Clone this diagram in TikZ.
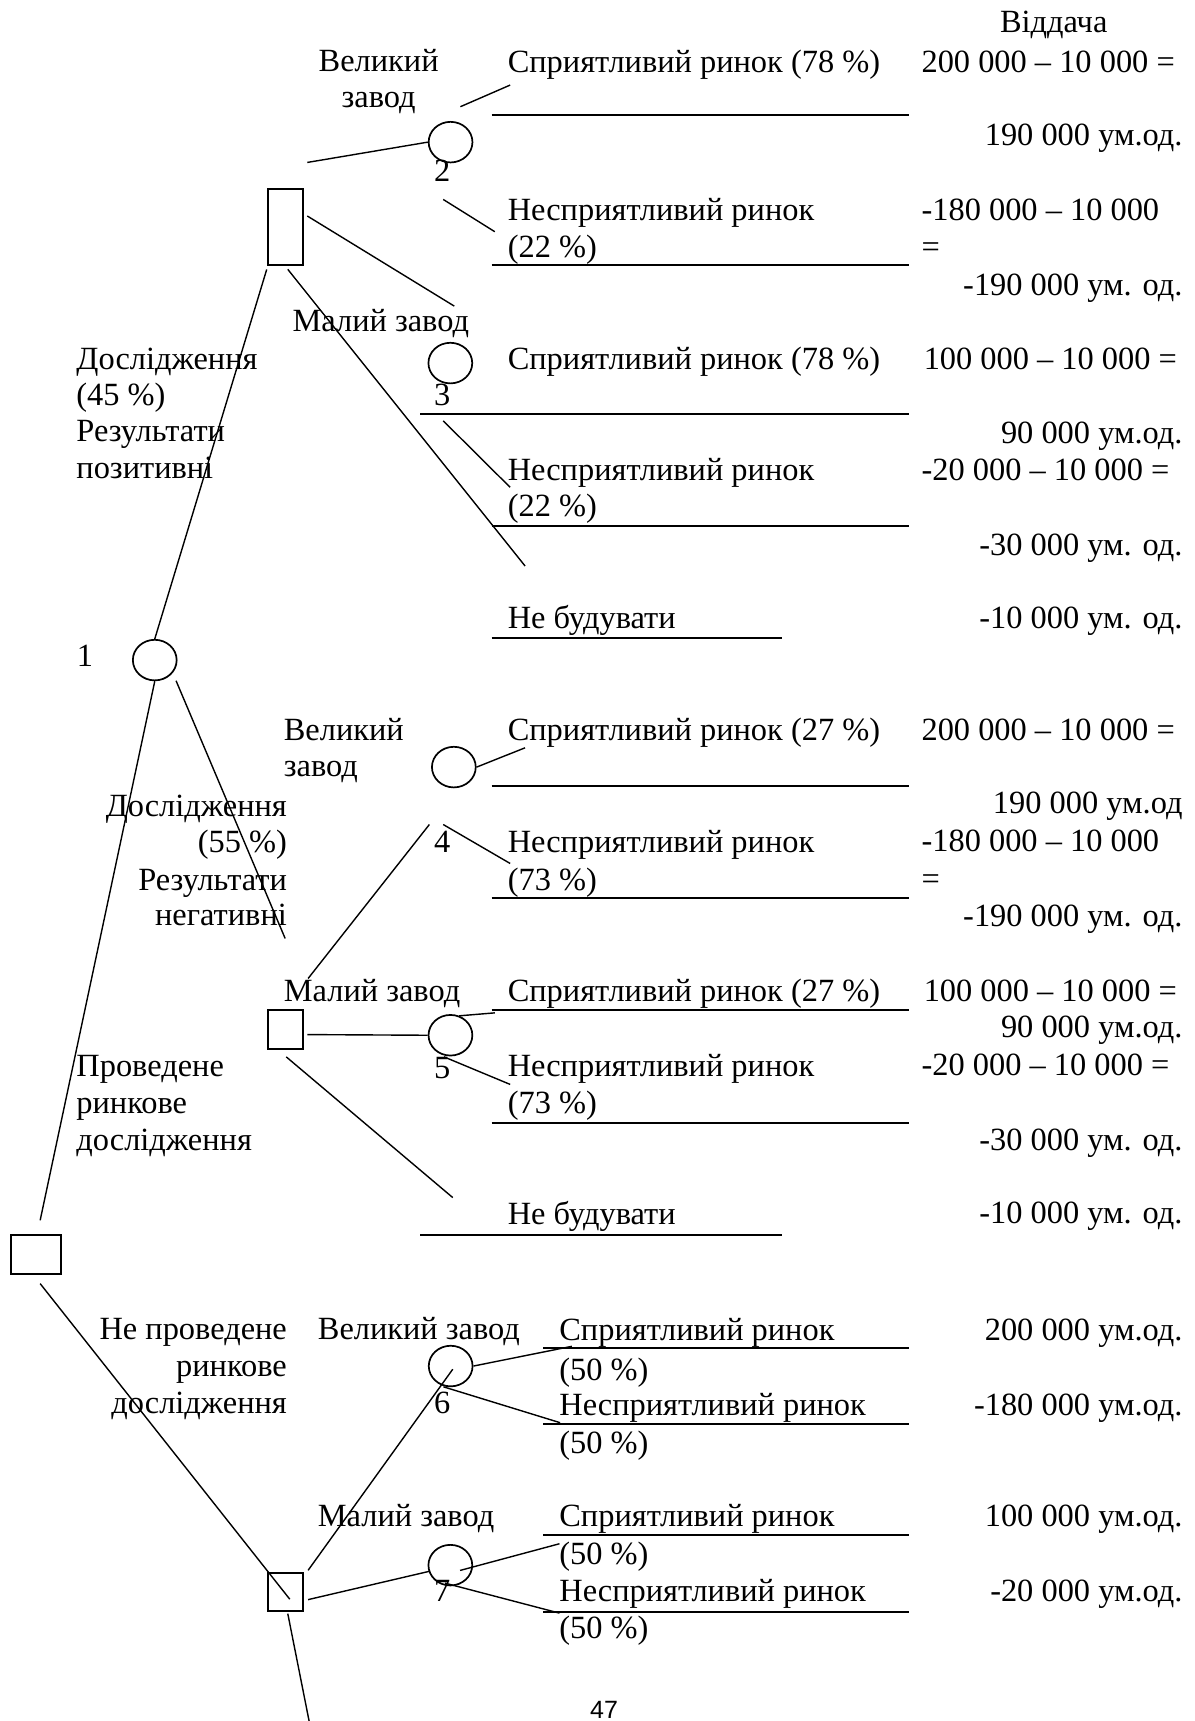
\documentclass[tikz,border=0pt]{standalone}
\usepackage{fontspec}
\setmainfont{Liberation Serif}
\newfontfamily\pagefont{Liberation Sans}
\usetikzlibrary{shapes.geometric,positioning}

\begin{document}
\begin{tikzpicture}[x=0.5487pt,y=-0.5487pt,
  font=\fontsize{16.2}{18.3}\selectfont,line width=0.7pt,
  chance/.style={ellipse,draw,line width=0.85pt,minimum width=21.9pt,minimum height=20.3pt,inner sep=0pt},
  decision/.style={rectangle,draw,line width=0.85pt,inner sep=0pt,minimum width=17.6pt},
  txt/.style={anchor=base west,inner sep=0pt},
  rtxt/.style={anchor=base east,inner sep=0pt},
  ctxt/.style={anchor=base,inner sep=0pt},
  under/.style={line width=1pt}]

  \useasboundingbox (0,0) rectangle (1088,1568);

  % decision and chance nodes
  \node[decision,minimum width=24.9pt,minimum height=19.2pt] (d0) at (33,1143) {};
  \node[decision,minimum height=37.9pt] (dA) at (260,207) {};
  \node[decision,minimum height=19.2pt] (dB) at (260,938) {};
  \node[decision,minimum height=19.2pt] (dC) at (260,1450.5) {};

  \node[chance] (1) at (141,601.4) {};
  \node[chance] (2) at (410.5,129.5) {};
  \node[chance] (3) at (410.3,330.8) {};
  \node[chance] (4) at (413.5,698.9) {};
  \node[chance] (5) at (410.4,943.2) {};
  \node[chance] (6) at (410.6,1244.6) {};
  \node[chance] (7) at (410.3,1426) {};

  \node[txt] (n1) at (69.5,607.5) {1};
  \node[ctxt] (n2) at (403,165.5) {2};
  \node[ctxt] (n3) at (403,369) {3};
  \node[ctxt] (n4) at (403,777) {4};
  \node[ctxt] (n5) at (403,982.7) {5};
  \node[ctxt] (n6) at (403,1288) {6};
  \node[ctxt] (n7) at (403,1459) {7};

  \node[ctxt] (V) at (960,29.5) {Віддача};

  % research, positive results
  \node[txt] (LA1) at (69,336.5) {Дослідження};
  \node[txt] (LA2) at (69,369) {(45 \%)};
  \node[txt] (LA3) at (69,402.5) {Результати};
  \node[txt] (LA4) at (69,435.8) {позитивні};

  \node[ctxt] (tA1) at (345,65) {Великий};
  \node[ctxt] (tA2) at (345,98) {завод};
  \node[txt] (tA3) at (266,302) {Малий завод};

  \node[txt] (pA1) at (462,66) {Сприятливий ринок (78 \%)};
  \node[txt] (pA2) at (462,201) {Несприятливий ринок};
  \node[txt] (pA2b) at (462,234.5) {(22 \%)};
  \node[txt] (pA3) at (462,337) {Сприятливий ринок (78 \%)};
  \node[txt] (pA4) at (462,437.5) {Несприятливий ринок};
  \node[txt] (pA4b) at (462,471) {(22 \%)};
  \node[txt] (pA5) at (462,572.5) {Не будувати};

  \node[txt] (vA1) at (839,66) {200 000 – 10 000 =};
  \node[rtxt] (rA1) at (1078,133) {190 000 ум.од.};
  \node[txt] (vA2) at (839,201) {-180 000 – 10 000};
  \node[txt] (vA2b) at (839,234.5) {=};
  \node[rtxt] (rA2) at (1078,269) {-190 000 ум. од.};
  \node[txt] (vA3) at (841,337) {100 000 – 10 000 =};
  \node[rtxt] (rA3) at (1078,404) {90 000 ум.од.};
  \node[txt] (vA4) at (839,437.5) {-20 000 – 10 000 =};
  \node[rtxt] (rA4) at (1078,506) {-30 000 ум. од.};
  \node[rtxt] (rA5) at (1078,572.5) {-10 000 ум. од.};

  % research, negative results
  \node[rtxt] (LB1) at (262,744.2) {Дослідження};
  \node[rtxt] (LB2) at (262,777) {(55 \%)};
  \node[rtxt] (LB3) at (262,811) {Результати};
  \node[rtxt] (LB4) at (262,843) {негативні};

  \node[txt] (tB1) at (258,674.3) {Великий};
  \node[txt] (tB2) at (258,707.7) {завод};
  \node[txt] (tB3) at (258,912) {Малий завод};

  \node[txt] (pB1) at (462,674.3) {Сприятливий ринок (27 \%)};
  \node[txt] (pB2) at (462,777) {Несприятливий ринок};
  \node[txt] (pB2b) at (462,811) {(73 \%)};
  \node[txt] (pB3) at (462,912.5) {Сприятливий ринок (27 \%)};
  \node[txt] (pB4) at (462,981) {Несприятливий ринок};
  \node[txt] (pB4b) at (462,1014.5) {(73 \%)};
  \node[txt] (pB5) at (462,1116) {Не будувати};

  \node[txt] (vB1) at (839,674.3) {200 000 – 10 000 =};
  \node[rtxt] (rB1) at (1078,741) {190 000 ум.од};
  \node[txt] (vB2) at (839,776) {-180 000 – 10 000};
  \node[txt] (vB2b) at (839,810) {=};
  \node[rtxt] (rB2) at (1078,844.4) {-190 000 ум. од.};
  \node[txt] (vB3) at (841,912.8) {100 000 – 10 000 =};
  \node[rtxt] (rB3) at (1078,945) {90 000 ум.од.};
  \node[txt] (vB4) at (839,980) {-20 000 – 10 000 =};
  \node[rtxt] (rB4) at (1078,1048) {-30 000 ум. од.};
  \node[rtxt] (rB5) at (1078,1115) {-10 000 ум. од.};

  \node[txt] (LD1) at (69,981) {Проведене};
  \node[txt] (LD2) at (69,1014.5) {ринкове};
  \node[txt] (LD3) at (69,1048) {дослідження};

  % no research
  \node[rtxt] (LC1) at (262,1220.5) {Не проведене};
  \node[rtxt] (LC2) at (262,1254) {ринкове};
  \node[rtxt] (LC3) at (262,1287.5) {дослідження};

  \node[txt] (tC1) at (289,1220.5) {Великий завод};
  \node[txt] (tC3) at (289,1390.6) {Малий завод};

  \node[txt] (pC1) at (509,1221) {Сприятливий ринок};
  \node[txt] (pC1b) at (509,1258) {(50 \%)};
  \node[txt] (pC2) at (509,1289.5) {Несприятливий ринок};
  \node[txt] (pC2b) at (509,1324.5) {(50 \%)};
  \node[txt] (pC3) at (509,1391) {Сприятливий ринок};
  \node[txt] (pC3b) at (509,1425) {(50 \%)};
  \node[txt] (pC4) at (509,1459.5) {Несприятливий ринок};
  \node[txt] (pC4b) at (509,1493) {(50 \%)};

  \node[rtxt] (rC1) at (1078,1221) {200 000 ум.од.};
  \node[rtxt] (rC2) at (1078,1289.5) {-180 000 ум.од.};
  \node[rtxt] (rC3) at (1078,1391) {100 000 ум.од.};
  \node[rtxt] (rC4) at (1078,1459.5) {-20 000 ум.од.};

  \node[anchor=south west,inner sep=0pt,font=\pagefont\fontsize{12.5}{14}\selectfont] (pg) at (537,1566) {47};

  % free ends of the branches
  \coordinate (l1b) at (243,245.5);
  \coordinate (l2a) at (160.4,620.2);  \coordinate (l2b) at (259.8,855);
  \coordinate (l3b) at (36.6,1111.8);
  \coordinate (l4a) at (36.6,1169.5);  \coordinate (l4b) at (264,1457);
  \coordinate (l5a) at (280,148);
  \coordinate (l6a) at (419.5,97.2);   \coordinate (l6b) at (464.8,77.5);
  \coordinate (l7a) at (403.8,181.7);  \coordinate (l7b) at (450.8,211.1);
  \coordinate (l8a) at (280,196.8);    \coordinate (l8b) at (413.9,278.9);
  \coordinate (l9a) at (262.2,245.4);  \coordinate (l9b) at (478.4,515.7);
  \coordinate (l10a) at (403.8,383.4); \coordinate (l10b) at (464.8,444);
  \coordinate (l11b) at (478.4,681.3);
  \coordinate (l12a) at (280.7,891.5); \coordinate (l12b) at (391.2,751.2);
  \coordinate (l13a) at (403.8,751.2); \coordinate (l13b) at (464.8,786.7);
  \coordinate (l14a) at (280,942.6);
  \coordinate (l15a) at (418.4,925.5); \coordinate (l15b) at (450.8,922.8);
  \coordinate (l16a) at (404.5,962.9); \coordinate (l16b) at (464.8,988);
  \coordinate (l17a) at (260.8,962.9); \coordinate (l17b) at (412.5,1091.1);
  \coordinate (l18a) at (280.7,1430.7); \coordinate (l18b) at (412.5,1247.5);
  \coordinate (l19b) at (521,1226.6);
  \coordinate (l20a) at (404,1263.5);  \coordinate (l20b) at (510.3,1296.2);
  \coordinate (l21a) at (280.7,1457.4); \coordinate (l21b) at (391.2,1431.6);
  \coordinate (l22a) at (419.2,1430.8); \coordinate (l22b) at (509.7,1406.5);
  \coordinate (l23a) at (405.5,1442.4); \coordinate (l23b) at (509.7,1469.7);
  \coordinate (l24a) at (262.2,1470.2); \coordinate (l24b) at (284,1580);

  \draw (1.north) -- (l1b);
  \draw (l2a) -- (l2b);
  \draw (1.south) -- (l3b);
  \draw (l4a) -- (l4b);
  \draw (l5a) -- (2.west);
  \draw (l6a) -- (l6b);
  \draw (l7a) -- (l7b);
  \draw (l8a) -- (l8b);
  \draw (l9a) -- (l9b);
  \draw (l10a) -- (l10b);
  \draw (4.east) -- (l11b);
  \draw (l12a) -- (l12b);
  \draw (l13a) -- (l13b);
  \draw (l14a) -- (5.west);
  \draw (l15a) -- (l15b);
  \draw (l16a) -- (l16b);
  \draw (l17a) -- (l17b);
  \draw (l18a) -- (l18b);
  \draw (6.east) -- (l19b);
  \draw (l20a) -- (l20b);
  \draw (l21a) -- (l21b);
  \draw (l22a) -- (l22b);
  \draw (l23a) -- (l23b);
  \draw (l24a) -- (l24b);

  % underlines
  \draw[under] (448,104.8) -- (828.4,104.8);
  \draw[under] (448,241.5) -- (828.4,241.5);
  \draw[under] (383,377.3) -- (828.4,377.3);
  \draw[under] (448,479.3) -- (828.4,479.3);
  \draw[under] (448,581.7) -- (712.3,581.7);
  \draw[under] (448,716.2) -- (828.4,716.2);
  \draw[under] (448,818.6) -- (828.4,818.6);
  \draw[under] (448,920.4) -- (828.4,920.4);
  \draw[under] (448,1023) -- (828.4,1023);
  \draw[under] (383,1125.4) -- (712.3,1125.4);
  \draw[under] (495,1228) -- (828.4,1228);
  \draw[under] (495,1297) -- (828.4,1297);
  \draw[under] (495,1398.8) -- (828.4,1398.8);
  \draw[under] (495,1468.6) -- (828.4,1468.6);
\end{tikzpicture}
\end{document}
